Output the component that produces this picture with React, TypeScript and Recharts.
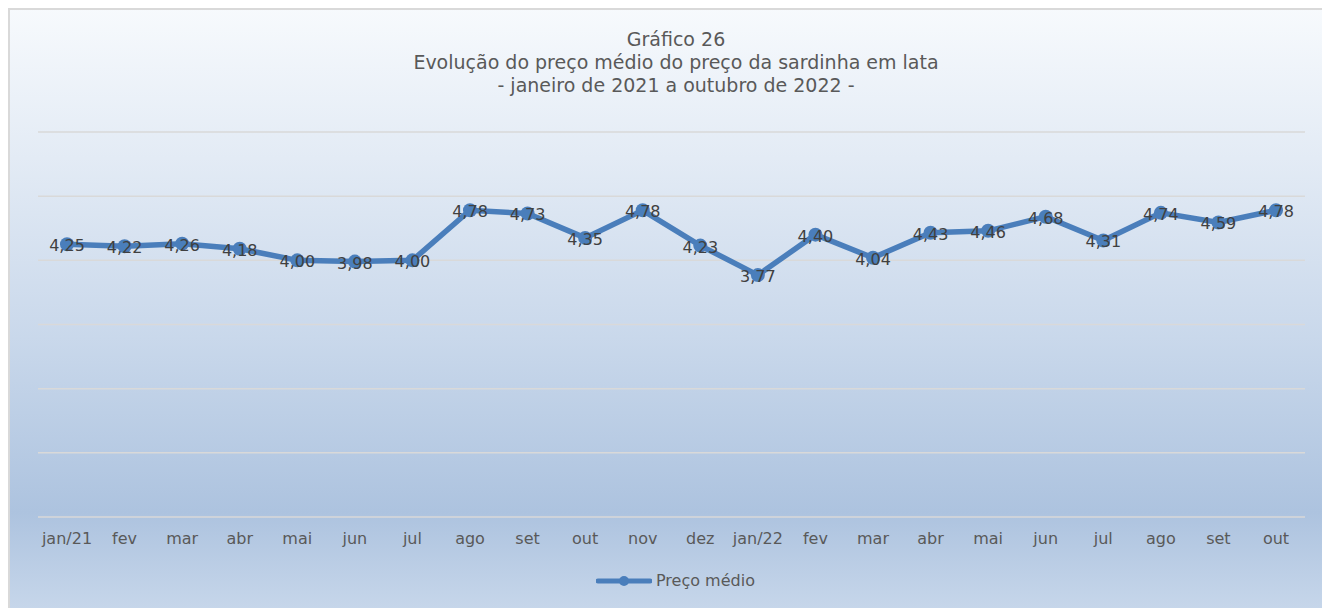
import React from 'react';
import { LineChart, Line, XAxis, YAxis, CartesianGrid, LabelList } from 'recharts';

// meses (jan/21 .. out/22)
const months = ['jan/21', 'fev', 'mar', 'abr', 'mai', 'jun', 'jul', 'ago', 'set', 'out', 'nov', 'dez',
  'jan/22', 'fev', 'mar', 'abr', 'mai', 'jun', 'jul', 'ago', 'set', 'out'];
const precoMedio = [4.25, 4.22, 4.26, 4.18, 4.0, 3.98, 4.0, 4.78, 4.73, 4.35, 4.78, 4.23,
  3.77, 4.4, 4.04, 4.43, 4.46, 4.68, 4.31, 4.74, 4.59, 4.78];
const yTicks = [0, 1, 2, 3, 4, 5, 6];
const titleLines = ['Gráfico 26', 'Evolução do preço médio do preço da sardinha em lata', '- janeiro de 2021 a outubro de 2022 -'];

const FONT = '"DejaVu Sans", Verdana, sans-serif';
const BLUE = '#4a7ebb';

const data = months.map((m, i) => ({ mes: m, preco: precoMedio[i] }));

const fmt = (v: number) => v.toFixed(2).replace('.', ',');

function ValueLabel(props: any) {
  const { x, y, value } = props;
  return (
    <text x={x} y={y + 7} textAnchor="middle" fill="#404040" fontSize={16} fontFamily={FONT}>
      {fmt(value)}
    </text>
  );
}

export default function App() {
  return (
    <div
      style={{
        position: 'relative',
        margin: '8px 0 0 8px',
        width: 1314,
        height: 600,
        overflow: 'hidden',
        background: 'linear-gradient(to bottom, #f7fafd 0%, #e3ebf5 25%, #c9d8eb 55%, #adc3df 84%, #c6d6ea 100%)',
        fontFamily: FONT,
      }}
    >
      <style>{'body{margin:0;overflow:hidden}'}</style>
      <div style={{ position: 'absolute', left: 0, top: 0, right: 0, bottom: 0, borderTop: '2px solid #d9d9d9', borderLeft: '2px solid #d9d9d9', pointerEvents: 'none' }} />
      <div style={{ position: 'absolute', top: 20, left: 0, width: 1336, textAlign: 'center', color: '#595959', fontSize: 19, lineHeight: '23px' }}>
        {titleLines.map((t) => (
          <div key={t}>{t}</div>
        ))}
      </div>
      <LineChart width={1314} height={600} data={data} margin={{ top: 124, right: 17, left: 30, bottom: 51 }}>
        <CartesianGrid vertical={false} stroke="#d9d9d9" strokeWidth={1.5} />
        <XAxis
          dataKey="mes"
          axisLine={false}
          tickLine={false}
          tickSize={0}
          tickMargin={16}
          height={40}
          interval={0}
          padding={{ left: 29, right: 29 }}
          tick={{ fill: '#595959', fontSize: 16, fontFamily: FONT }}
        />
        <YAxis hide domain={[0, 6]} ticks={yTicks} />
        <Line
          dataKey="preco"
          stroke={BLUE}
          strokeWidth={5.5}
          dot={{ r: 7, fill: BLUE, stroke: 'none' }}
          activeDot={false}
          isAnimationActive={false}
        >
          <LabelList dataKey="preco" content={<ValueLabel />} />
        </Line>
      </LineChart>
      <div style={{ position: 'absolute', top: 563, left: 588, display: 'flex', alignItems: 'center', color: '#595959', fontSize: 16 }}>
        <svg width={56} height={16}>
          <line x1={2} y1={8} x2={54} y2={8} stroke={BLUE} strokeWidth={5} strokeLinecap="round" />
          <circle cx={28} cy={8} r={5} fill={BLUE} />
        </svg>
        <span style={{ marginLeft: 4 }}>Preço médio</span>
      </div>
    </div>
  );
}
